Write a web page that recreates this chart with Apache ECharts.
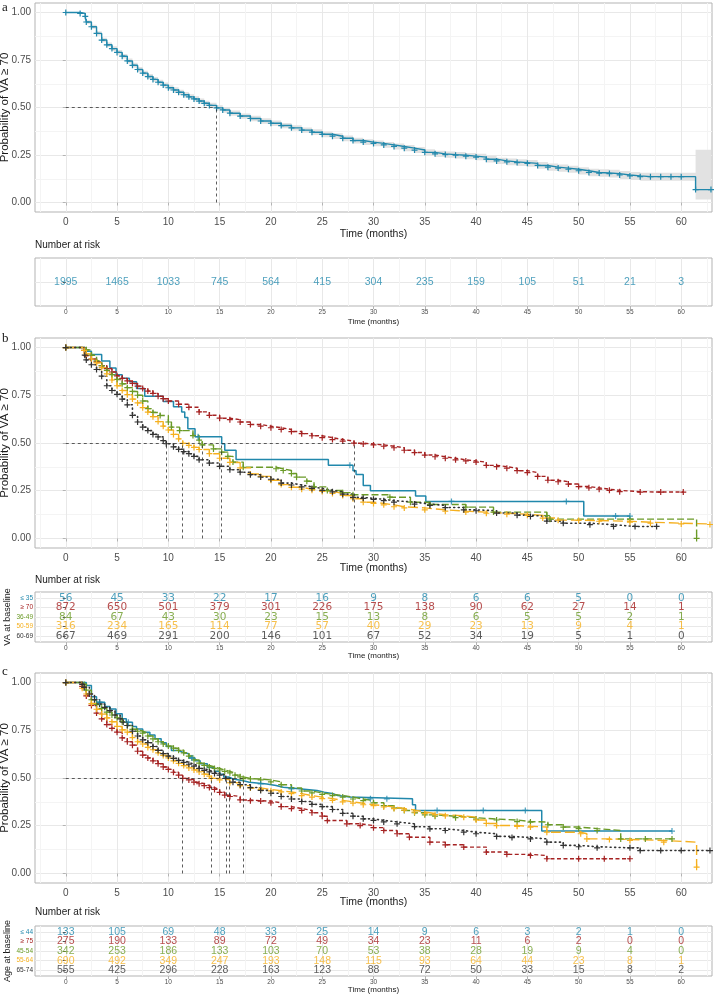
<!DOCTYPE html>
<html><head><meta charset="utf-8">
<script src="https://cdn.jsdelivr.net/npm/echarts@6/dist/echarts.min.js"></script>
<style>html,body{margin:0;padding:0;background:#fff}#c{width:716px;height:996px}</style>
</head><body><div id="c"></div><script>
// ---------- tick labels ----------
const timeTicks = [0,5,10,15,20,25,30,35,40,45,50,55,60];
const timeMinor = [-2.5,2.5,7.5,12.5,17.5,22.5,27.5,32.5,37.5,42.5,47.5,52.5,57.5,62.5];
const probTicks = [0,0.25,0.5,0.75,1];
const probMinor = [0.125,0.375,0.625,0.875];

// ---------- panel a ----------
const curveA = [[0,1],[1.4,0.995],[1.9,0.98],[2,0.95],[2.5,0.925],[3,0.89],[3.5,0.855],[4,0.83],[4.5,0.81],[5,0.79],
 [5.5,0.77],[6,0.745],[6.5,0.722],[7,0.7],[7.5,0.681],[8,0.663],[8.5,0.648],[9,0.633],[9.5,0.618],[10,0.604],
 [10.5,0.592],[11,0.58],[11.5,0.567],[12,0.556],[12.5,0.545],[13,0.534],[13.5,0.522],[14,0.511],[14.7,0.498],[15.3,0.487],
 [16,0.47],[17,0.455],[18,0.442],[19,0.429],[20,0.417],[21,0.405],[22,0.393],[23,0.381],[24,0.37],[25,0.359],
 [26,0.349],[27,0.338],[28,0.326],[29,0.318],[30,0.311],[31,0.303],[32,0.295],[33,0.286],[34,0.276],[35,0.264],
 [36,0.256],[37,0.252],[38,0.249],[39,0.244],[40,0.239],[41,0.228],[42,0.219],[43,0.214],[44,0.21],[45,0.206],
 [46,0.195],[47,0.186],[48,0.181],[49,0.175],[50,0.167],[51,0.158],[52,0.155],[53,0.152],[54,0.145],[55,0.14],
 [56,0.136],[57,0.136],[58,0.136],[59,0.136],[60,0.136],[61.4,0.068],[62.9,0.068]];
const ciLowA = [1.000,0.992,0.974,0.941,0.915,0.879,0.843,0.818,0.798,0.778,
 0.758,0.732,0.709,0.687,0.668,0.650,0.635,0.620,0.605,0.591,
 0.578,0.566,0.553,0.542,0.531,0.520,0.508,0.497,0.484,0.473,
 0.456,0.441,0.428,0.415,0.403,0.391,0.379,0.367,0.355,0.344,
 0.334,0.323,0.311,0.303,0.296,0.288,0.279,0.270,0.260,0.248,
 0.240,0.236,0.232,0.227,0.222,0.211,0.202,0.196,0.192,0.188,
 0.177,0.167,0.162,0.156,0.148,0.138,0.135,0.132,0.124,0.119,
 0.115,0.115,0.115,0.115,0.115,0.016,0.016];
const ciHighA = [1.000,0.998,0.986,0.959,0.935,0.901,0.867,0.842,0.822,0.802,
 0.782,0.758,0.735,0.713,0.694,0.676,0.661,0.646,0.631,0.617,
 0.606,0.594,0.581,0.570,0.559,0.548,0.536,0.525,0.512,0.501,
 0.484,0.469,0.456,0.443,0.431,0.419,0.407,0.395,0.385,0.374,
 0.364,0.353,0.341,0.333,0.326,0.318,0.311,0.302,0.292,0.280,
 0.272,0.268,0.266,0.261,0.256,0.245,0.236,0.232,0.228,0.224,
 0.213,0.205,0.200,0.194,0.186,0.178,0.175,0.172,0.166,0.161,
 0.157,0.157,0.157,0.157,0.157,0.277,0.277];
const medA = [14.7];
const riskA = [1995,1465,1033,745,564,415,304,235,159,105,51,21,3];

// ---------- panel b (VA at baseline) ----------
const groupsB = ['≤ 35','≥ 70','36-49','50-59','60-69'];
const curveB_le35 = [[0,1],[1.85,0.98],[2.5,0.964],[3.5,0.929],[4.3,0.893],[4.9,0.857],[5.5,0.839],[6.2,0.821],[6.9,0.785],[7.7,0.745],
 [9.5,0.718],[10.5,0.69],[11.3,0.662],[11.6,0.633],[11.9,0.575],[12.6,0.533],[15.2,0.496],[15.5,0.462],[16.6,0.413],[25.6,0.383],
 [28.0,0.354],[28.3,0.335],[29.0,0.278],[29.7,0.25],[34.1,0.222],[35.1,0.194],[50.5,0.117],[55.0,0.117]];
const censB_le35 = [[12.9,0.533],[27.7,0.383],[37.6,0.194],[48.8,0.194],[53.6,0.117],[55.0,0.117]];
const curveB_ge70 = [[0,1],[1.8,0.985],[2,0.958],[2.5,0.94],[3,0.925],[3.5,0.905],[4,0.89],[4.5,0.872],[5,0.852],[5.5,0.838],
 [6,0.825],[6.5,0.812],[7,0.798],[7.5,0.785],[8,0.772],[8.5,0.76],[9,0.745],[9.5,0.732],[10,0.72],[11,0.703],
 [12,0.687],[13,0.663],[14,0.645],[15,0.63],[16,0.622],[17,0.61],[18,0.597],[19,0.588],[20,0.58],[21,0.571],
 [22,0.56],[23,0.549],[24,0.538],[25,0.528],[26,0.518],[27,0.51],[28.1,0.499],[29,0.495],[30,0.49],[31,0.483],
 [32,0.475],[33,0.462],[34,0.45],[35,0.437],[36,0.428],[37,0.42],[38,0.412],[39,0.406],[40,0.4],[41,0.383],
 [42,0.376],[43,0.368],[44,0.355],[45,0.345],[46,0.325],[47,0.305],[48,0.297],[49,0.285],[50,0.272],[51,0.265],
 [52,0.258],[53,0.252],[54,0.245],[56,0.243],[58,0.243],[60.2,0.243]];
const curveB_36_49 = [[0,1],[2,0.988],[2.5,0.96],[3,0.93],[3.5,0.905],[4,0.88],[4.5,0.858],[5,0.833],[5.5,0.81],[6,0.79],
 [6.5,0.77],[7,0.75],[7.5,0.72],[8,0.68],[8.5,0.66],[9.2,0.644],[10,0.61],[10.3,0.583],[11.1,0.565],[12.4,0.539],
 [13,0.515],[13.3,0.49],[14.4,0.469],[15.2,0.452],[15.8,0.43],[16.3,0.4],[17.3,0.373],[20.5,0.365],[21.2,0.356],[22,0.34],
 [22.5,0.321],[23.5,0.3],[24.2,0.27],[25.5,0.251],[27,0.24],[28,0.229],[31.6,0.216],[33.6,0.19],[35.5,0.178],[39,0.164],
 [41.7,0.138],[46.9,0.12],[47.2,0.101],[55,0.101],[61.5,0.0]];
const curveB_50_59 = [[0,1],[1.8,0.985],[2,0.967],[2.5,0.94],[3,0.92],[3.5,0.895],[4,0.862],[4.5,0.83],[5,0.8],[5.5,0.775],
 [6,0.753],[6.5,0.73],[7,0.71],[7.5,0.685],[8,0.662],[8.5,0.638],[9,0.612],[9.5,0.588],[10,0.568],[10.5,0.545],
 [11,0.522],[11.4,0.498],[12,0.488],[12.5,0.477],[13,0.466],[14,0.444],[15,0.42],[16,0.398],[17,0.37],[18,0.338],
 [19,0.325],[20,0.305],[21,0.282],[22,0.268],[23,0.258],[24,0.253],[25,0.246],[26,0.236],[27,0.225],[28,0.208],
 [29,0.19],[30,0.183],[31,0.176],[32,0.166],[33,0.16],[35,0.15],[37,0.143],[39,0.138],[41,0.132],[43,0.127],
 [45,0.121],[46.5,0.107],[48,0.096],[50,0.094],[52,0.09],[55,0.085],[57,0.08],[60,0.076],[62.8,0.073]];
const curveB_60_69 = [[0,1],[1.85,0.96],[2,0.935],[2.5,0.91],[3,0.885],[3.5,0.85],[4,0.8],[4.5,0.775],[5,0.755],[5.5,0.73],
 [6,0.7],[6.5,0.645],[7,0.61],[7.5,0.583],[8,0.565],[8.5,0.545],[9,0.532],[9.5,0.512],[9.8,0.496],[10.5,0.48],
 [11,0.467],[11.5,0.455],[12,0.444],[12.5,0.43],[13,0.412],[14,0.395],[15,0.378],[16,0.36],[17,0.347],[18,0.334],
 [19,0.322],[20,0.31],[21,0.29],[22,0.28],[23,0.27],[24,0.262],[25,0.252],[26,0.244],[27,0.232],[28,0.215],
 [29,0.21],[30,0.205],[31,0.198],[32,0.19],[34,0.18],[35.5,0.173],[37,0.162],[38.8,0.15],[40,0.145],[42,0.133],
 [44,0.122],[45.3,0.115],[46.9,0.091],[48.5,0.08],[51.1,0.072],[53.4,0.063],[55.5,0.063],[57.6,0.063]];
const medB = [15.2, 28.1, 13.3, 11.4, 9.8];
const riskB = [
 [56,45,33,22,17,16,9,8,6,6,5,0,0],
 [872,650,501,379,301,226,175,138,90,62,27,14,1],
 [84,67,43,30,23,15,13,8,6,5,5,2,1],
 [316,234,165,114,77,57,40,29,23,13,9,4,1],
 [667,469,291,200,146,101,67,52,34,19,5,1,0]];

// ---------- panel c (Age at baseline) ----------
const groupsC = ['≤ 44','≥ 75','45-54','55-64','65-74'];
const curveC_le44 = [[0,1],[2,0.985],[2.5,0.925],[3,0.897],[3.8,0.875],[4.3,0.862],[4.9,0.836],[5.5,0.81],[5.9,0.792],[6.5,0.77],
 [6.9,0.757],[7.5,0.74],[8.2,0.725],[8.7,0.705],[9.3,0.685],[9.8,0.665],[10.3,0.644],[11,0.635],[11.4,0.627],[12,0.605],
 [12.6,0.59],[13.1,0.574],[13.8,0.555],[14.5,0.535],[15,0.52],[15.4,0.505],[15.9,0.495],[16.3,0.487],[17.2,0.478],[17.9,0.469],
 [19.6,0.461],[20.5,0.452],[21.2,0.443],[23,0.435],[24.5,0.426],[25.2,0.417],[26.1,0.408],[26.5,0.4],[27.7,0.391],[33.8,0.36],
 [34.1,0.33],[46.4,0.222],[59.1,0.222]];
const censC_le44 = [[3.3,0.897],[6.1,0.792],[12.3,0.605],[19,0.469],[22,0.443],[29.7,0.391],[31.3,0.391],[36.2,0.33],[40.7,0.33],[44.8,0.33],[59.1,0.222]];
const curveC_ge75 = [[0,1],[1.6,0.98],[2,0.93],[2.5,0.88],[3,0.84],[3.5,0.81],[4,0.78],[4.5,0.76],[5,0.74],[5.5,0.71],
 [6,0.69],[6.5,0.672],[7,0.64],[7.5,0.62],[8,0.605],[8.5,0.59],[9,0.575],[9.5,0.558],[10,0.545],[10.5,0.53],
 [11,0.515],[11.4,0.498],[12,0.49],[12.5,0.478],[13,0.47],[13.5,0.46],[14,0.45],[14.5,0.44],[15,0.425],[15.5,0.41],
 [16,0.403],[17,0.385],[18,0.381],[19,0.379],[20,0.37],[21,0.35],[22,0.34],[23,0.33],[24,0.318],[25,0.3],
 [25.5,0.277],[27.4,0.26],[28.7,0.251],[30,0.24],[31,0.225],[32.3,0.208],[33.5,0.19],[35.5,0.164],[37,0.15],[38.8,0.138],
 [41,0.112],[43,0.1],[45.3,0.094],[46.9,0.077],[50,0.077],[52.5,0.077],[55,0.077]];
const curveC_45_54 = [[0,1],[1.8,0.99],[2,0.96],[2.5,0.91],[3,0.885],[3.5,0.865],[4,0.845],[4.5,0.83],[5,0.815],[5.5,0.795],
 [6,0.775],[6.5,0.755],[7,0.745],[7.5,0.735],[8,0.72],[8.5,0.705],[9,0.69],[9.5,0.678],[10,0.667],[10.5,0.656],
 [11,0.645],[11.5,0.632],[12,0.615],[12.5,0.595],[13,0.578],[13.5,0.566],[14,0.558],[14.5,0.55],[15,0.542],[15.5,0.535],
 [16,0.527],[16.5,0.515],[17,0.506],[17.3,0.497],[18,0.495],[19,0.49],[20,0.48],[21,0.465],[22,0.448],[23,0.432],
 [24,0.422],[25,0.414],[26,0.408],[27,0.4],[28,0.39],[29,0.382],[30,0.37],[31,0.355],[32,0.342],[33,0.33],
 [34,0.318],[35,0.307],[36,0.3],[38,0.292],[40,0.285],[42,0.28],[44,0.272],[45.3,0.269],[47,0.255],[48.5,0.243],
 [50,0.235],[51.8,0.225],[54.1,0.181],[56.5,0.181],[59.1,0.181]];
const curveC_55_64 = [[0,1],[1.6,0.97],[2,0.94],[2.5,0.89],[3,0.86],[3.5,0.835],[4,0.815],[4.5,0.795],[5,0.77],[5.5,0.752],
 [6,0.74],[6.5,0.712],[7,0.69],[7.5,0.678],[8,0.66],[8.5,0.648],[9,0.632],[9.5,0.618],[10,0.605],[10.5,0.59],
 [11,0.577],[11.5,0.565],[12,0.553],[12.5,0.542],[13,0.532],[13.5,0.52],[14,0.51],[14.2,0.498],[15,0.49],[16,0.475],
 [17,0.46],[18,0.448],[19,0.44],[20,0.433],[21,0.427],[22,0.418],[23,0.408],[24,0.4],[25,0.392],[26,0.383],
 [27,0.375],[28,0.368],[29,0.36],[30,0.355],[31,0.348],[32,0.34],[33,0.332],[34,0.322],[35,0.314],[36,0.308],
 [37,0.302],[38.8,0.295],[40,0.28],[41,0.262],[42,0.251],[44,0.247],[45.3,0.243],[46.9,0.216],[50.2,0.208],[50.8,0.181],
 [53,0.178],[55,0.173],[58.3,0.164],[61.5,0.033]];
const curveC_65_74 = [[0,1],[1.6,0.99],[1.8,0.975],[2.3,0.94],[2.8,0.91],[3.3,0.888],[3.8,0.87],[4.3,0.853],[4.8,0.83],[5.3,0.81],
 [5.6,0.792],[6,0.775],[6.5,0.745],[7,0.72],[7.5,0.7],[8,0.685],[8.5,0.665],[9,0.645],[9.5,0.628],[10,0.615],
 [10.5,0.603],[11,0.592],[11.5,0.582],[12,0.572],[12.5,0.562],[13,0.55],[13.5,0.54],[14,0.532],[14.5,0.524],[15,0.515],
 [15.6,0.498],[16.3,0.478],[17,0.465],[18,0.45],[19,0.435],[20,0.42],[21,0.403],[22,0.39],[23,0.377],[24,0.362],
 [25,0.35],[26,0.335],[27,0.315],[28,0.3],[29,0.286],[30,0.278],[31,0.27],[32.3,0.26],[34,0.245],[35.5,0.234],
 [37,0.225],[38.8,0.216],[40,0.208],[42,0.194],[43.5,0.188],[45.3,0.181],[46.9,0.164],[48.5,0.147],[50,0.14],[51.8,0.134],
 [55,0.134],[56,0.12],[58,0.12],[60,0.12],[62.8,0.12]];
const medC = [15.9, 11.4, 17.3, 14.2, 15.6];
const riskC = [
 [133,105,69,48,33,25,14,9,6,3,2,1,0],
 [275,190,133,89,72,49,34,23,11,6,2,0,0],
 [342,253,186,133,103,70,53,38,28,19,9,4,0],
 [690,492,349,247,193,148,115,93,64,44,23,8,1],
 [555,425,296,228,163,123,88,72,50,33,15,8,2]];

// ---------- styling ----------
const FONT = 'Liberation Sans, Arial, Helvetica, sans-serif';
const TEAL='#2188AC', RED='#A52222', GREEN='#6A9A27', ORANGE='#F5B01F', DARK='#333333';
const groupColors = [TEAL, RED, GREEN, ORANGE, DARK];
const PLUS = 'path://M4,0h2v4h4v2h-4v4h-2v-4h-4v-2h4z';
const BORDER='#b3b3b3', GRID_MAJ='#e8e8e8', GRID_MIN='#f4f4f4', TICKTXT='#4d4d4d';

const grids = [
 {left:35, top:3, width:677, height:209},
 {left:35, top:258, width:677, height:48},
 {left:35, top:338, width:677, height:210},
 {left:35, top:592, width:677, height:50},
 {left:35, top:673, width:677, height:210},
 {left:35, top:926, width:677, height:50}
].map(g => Object.assign(g, {show:true, borderColor:BORDER, borderWidth:1, containLabel:false, outerBoundsMode:'none'}));

const xAxis=[], yAxis=[], series=[];

function xPair(g, o) {
  const xi = xAxis.length;
  xAxis.push({type:'value', gridIndex:g, min:-3, max:63, position:'bottom',
    name:'Time (months)', nameLocation:'middle', nameGap:o.nameGap, nameMoveOverlap:false,
    nameTextStyle:{fontSize:o.nameSize, color:'#1a1a1a', fontFamily:FONT, verticalAlign:'top'},
    axisLine:{show:false},
    axisTick:{show:true, customValues:timeTicks, length:3, lineStyle:{color:BORDER, width:1}},
    axisLabel:{customValues:timeTicks, fontSize:o.labelSize, color:TICKTXT, margin:o.margin, fontFamily:FONT},
    splitLine:{show:true, lineStyle:{color:GRID_MAJ, width:1}}});
  xAxis.push({type:'value', gridIndex:g, min:-3, max:63, position:'top',
    axisLine:{show:false}, axisTick:{show:false, customValues:timeMinor},
    axisLabel:{show:false, customValues:timeMinor},
    splitLine:{show:true, lineStyle:{color:GRID_MIN, width:1}}});
  return xi;
}
function plotAxes(g, nameGapX) {
  const xi = xPair(g, {nameGap:nameGapX, nameSize:10.5, labelSize:10, margin:5});
  const yi = yAxis.length;
  yAxis.push({type:'value', gridIndex:g, min:-0.05, max:1.05, position:'left',
    name:'Probability of VA ≥ 70', nameLocation:'middle', nameGap:24, nameMoveOverlap:false,
    nameTextStyle:{fontSize:11.5, color:'#1a1a1a', fontFamily:FONT},
    axisLine:{show:false},
    axisTick:{show:true, customValues:probTicks, length:3, lineStyle:{color:BORDER}},
    axisLabel:{customValues:probTicks, formatter:v=>Number(v).toFixed(2), fontSize:10, color:TICKTXT, margin:4, fontFamily:FONT},
    splitLine:{show:true, lineStyle:{color:GRID_MAJ, width:1}}});
  yAxis.push({type:'value', gridIndex:g, min:-0.05, max:1.05, position:'right',
    axisLine:{show:false}, axisTick:{show:false, customValues:probMinor},
    axisLabel:{show:false, customValues:probMinor},
    splitLine:{show:true, lineStyle:{color:GRID_MIN, width:1}}});
  return {xi, yi};
}
function tableAxes(g, labels, name, nameGapX) {
  const xi = xPair(g, {nameGap:nameGapX, nameSize:8, labelSize:6.5, margin:3});
  const yi = yAxis.length;
  const vals = labels.map((_,i)=>i+1);
  yAxis.push({type:'value', gridIndex:g, min:0.4, max:labels.length+0.6, inverse:true, position:'left',
    name:name||'', nameLocation:'middle', nameGap:23, nameMoveOverlap:false,
    nameTextStyle:{fontSize:9, color:'#1a1a1a', fontFamily:FONT},
    axisLine:{show:false},
    axisTick:{show:true, customValues:vals, length:3, lineStyle:{color:'#555'}},
    axisLabel:{customValues:vals, formatter:v=>labels[Number(v)-1], fontSize:6.5, margin:2, fontFamily:FONT,
      color:(v)=>groupColors[Number(v)-1] || TICKTXT},
    splitLine:{show:true, lineStyle:{color:GRID_MAJ, width:1}}});
  return {xi, yi};
}
function km(ax, data, color, dash, marks, width, cap) {
  return {type:'line', xAxisIndex:ax.xi, yAxisIndex:ax.yi, data, step:'end', silent:true,
    symbol: marks ? PLUS : 'none', symbolSize:6, showSymbol:!!marks, showAllSymbol:true,
    lineStyle:{color, width:width||1.4, type:dash, cap:cap||'butt'}, itemStyle:{color},
    emphasis:{disabled:true}, animation:false, z:3};
}
function cens(ax, data, color) {
  return {type:'scatter', xAxisIndex:ax.xi, yAxisIndex:ax.yi, data, symbol:PLUS, symbolSize:6,
    itemStyle:{color}, silent:true, animation:false, z:4};
}
function medianLines(ax, meds) {
  const lines = [[{coord:[0,0.5]},{coord:[Math.max(...meds),0.5]}]];
  meds.forEach(m => lines.push([{coord:[m,0]},{coord:[m,0.5]}]));
  return {type:'line', xAxisIndex:ax.xi, yAxisIndex:ax.yi, data:[[0,0.5]], symbol:'none',
    lineStyle:{opacity:0}, silent:true, animation:false, z:5,
    markLine:{silent:true, symbol:'none', animation:false, label:{show:false},
      lineStyle:{type:[3,3], color:'#333', width:0.8}, data:lines}};
}
function riskSeries(ax, rows, colors, font, size) {
  rows.forEach((row, r) => {
    series.push({type:'scatter', xAxisIndex:ax.xi, yAxisIndex:ax.yi, silent:true, animation:false,
      data: timeTicks.map((t,i)=>[t, r+1, row[i]]), symbol:'circle', symbolSize:1,
      itemStyle:{color:'rgba(0,0,0,0)'},
      label:{show:true, position:'inside', formatter:p=>String(p.value[2]), color:colors[r],
        fontSize:size, fontFamily:font}});
  });
}

// ----- panel a -----
const axA = plotAxes(0, 17);
series.push({type:'custom', xAxisIndex:axA.xi, yAxisIndex:axA.yi, silent:true, z:1, animation:false,
  data:[[0,0]], renderItem:(params, api) => {
    const up=[], lo=[];
    for (let i=0;i<curveA.length;i++){
      const t=curveA[i][0], tn = i+1<curveA.length ? curveA[i+1][0] : t;
      up.push(api.coord([t, ciHighA[i]]), api.coord([tn, ciHighA[i]]));
      lo.push(api.coord([t, ciLowA[i]]), api.coord([tn, ciLowA[i]]));
    }
    return {type:'polygon', shape:{points: up.concat(lo.reverse())}, style:{fill:'#e2e2e2'}};
  }});
series.push(km(axA, curveA, TEAL, 'solid', true, 1.4));
series.push(medianLines(axA, medA));
const tA = tableAxes(1, [''], '', 12);
riskSeries(tA, [riskA], [TEAL], FONT, 10.5);

// ----- panel b -----
const axB = plotAxes(2, 15);
series.push(km(axB, curveB_le35, TEAL, 'solid', false, 1.5));
series.push(cens(axB, censB_le35, TEAL));
series.push(km(axB, curveB_ge70, RED, [4,2.5], true));
series.push(km(axB, curveB_36_49, GREEN, [7,3], true));
series.push(km(axB, curveB_50_59, ORANGE, [10,4], true));
series.push(km(axB, curveB_60_69, DARK, [1,3.5], true, 1.6, 'round'));
series.push(medianLines(axB, medB));
const tB = tableAxes(3, groupsB, 'VA at baseline', 10);
riskSeries(tB, riskB, groupColors, 'DejaVu Sans, sans-serif', 10.5);

// ----- panel c -----
const axC = plotAxes(4, 14);
series.push(km(axC, curveC_le44, TEAL, 'solid', false, 1.5));
series.push(cens(axC, censC_le44, TEAL));
series.push(km(axC, curveC_ge75, RED, [4,2.5], true));
series.push(km(axC, curveC_45_54, GREEN, [7,3], true));
series.push(km(axC, curveC_55_64, ORANGE, [10,4], true));
series.push(km(axC, curveC_65_74, DARK, [1,3.5], true, 1.6, 'round'));
series.push(medianLines(axC, medC));
const tC = tableAxes(5, groupsC, 'Age at baseline', 10);
riskSeries(tC, riskC, groupColors, FONT, 10.5);

const txt = (x, y, s, font) => ({type:'text', left:x, top:y, silent:true,
  style:{text:s, font:font, fill:'#1a1a1a'}});
const graphic = [
  txt(2, 1, 'a', '13px Liberation Serif, serif'),
  txt(2, 332, 'b', '13px Liberation Serif, serif'),
  txt(2, 665, 'c', '13px Liberation Serif, serif'),
  txt(35, 240, 'Number at risk', '10px ' + FONT),
  txt(35, 575, 'Number at risk', '10px ' + FONT),
  txt(35, 907, 'Number at risk', '10px ' + FONT)
];

const chart = echarts.init(document.getElementById('c'), null, {renderer:'canvas'});
chart.setOption({backgroundColor:'#fff', animation:false, grid:grids, xAxis, yAxis, series, graphic});
</script></body></html>
